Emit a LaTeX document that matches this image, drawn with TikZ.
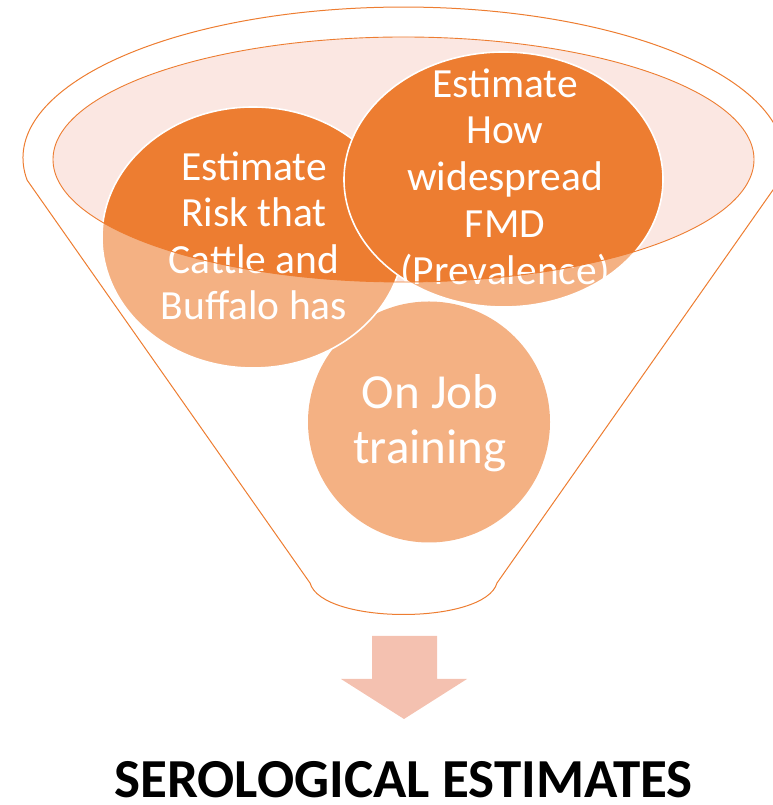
\documentclass[tikz,border=0pt]{standalone}
\usepackage{fontspec}
\setmainfont{Carlito}
\definecolor{darkorange}{HTML}{ED7D31}
\definecolor{lightorange}{HTML}{F4B183}
\definecolor{pinkfill}{RGB}{251,231,226}
\definecolor{arrowfill}{RGB}{244,193,176}
\tikzset{
  funnelline/.style={draw=darkorange, line width=1pt},
  circborder/.style={draw=white, line width=1.6pt},
  ctext/.style={anchor=base, text=white, inner sep=0pt, font=\fontsize{41.5}{47}\selectfont},
  btext/.style={anchor=base, text=white, inner sep=0pt, font=\fontsize{49}{55}\selectfont},
  ttext/.style={anchor=base, text=black, inner sep=0pt, font=\fontsize{55}{60}\selectfont\bfseries}
}
\begin{document}
\begin{tikzpicture}[x=1pt,y=1pt]
\useasboundingbox (0,0) rectangle (772,805);
% funnel outline
\draw[funnelline] (27.1,624.9) arc[start angle=188.4, end angle=-8.4, x radius=380.5, y radius=151]
  -- (497,222) .. controls (485,180) and (322,180) .. (310,222) -- cycle;
% inner ellipse fill
\fill[pinkfill] (403.5,645.5) ellipse [x radius=350.5, y radius=122.5];
% bottom circle
\fill[lightorange] (429,383) ellipse [x radius=121, y radius=120.5];
% left circle
\fill[lightorange] (253,567.5) ellipse [x radius=151, y radius=130.5];
\begin{scope}
  \clip (403.5,645.5) ellipse [x radius=350.5, y radius=122.5];
  \fill[darkorange] (253,567.5) ellipse [x radius=151, y radius=130.5];
\end{scope}
\path[circborder] (253,567.5) ellipse [x radius=151, y radius=130.5];
% right circle
\fill[lightorange] (503.5,625.5) ellipse [x radius=159.5, y radius=127.5];
\begin{scope}
  \clip (403.5,645.5) ellipse [x radius=350.5, y radius=122.5];
  \fill[darkorange] (503.5,625.5) ellipse [x radius=159.5, y radius=127.5];
\end{scope}
\path[circborder] (503.5,625.5) ellipse [x radius=159.5, y radius=127.5];
% texts
\node[ctext] (l1) at (254,624.5) {Estimate};
\node[ctext] (l2) at (254,578) {Risk that};
\node[ctext] (l3) at (254,531.5) {Cattle and};
\node[ctext] (l4) at (254,485) {Buffalo has};
\node[ctext] (r1) at (505,707.7) {Estimate};
\node[ctext] (r2) at (505,661) {How};
\node[ctext] (r3) at (505,614) {widespread};
\node[ctext] (r4) at (505,567) {FMD};
\node[ctext] (r5) at (505,520) {(Prevalence)};
\node[btext] (b1) at (430,396.7) {On Job};
\node[btext] (b2) at (430,341.7) {training};
% inner ellipse outline
\draw[darkorange, line width=0.9pt] (403.5,645.5) ellipse [x radius=350.5, y radius=122.5];
% arrow
\fill[arrowfill] (372,169) -- (437,169) -- (437,126) -- (467,126) -- (404,86) -- (341,126) -- (372,126) -- cycle;
% title
\node[ttext] (title) at (403.5,8) {SEROLOGICAL ESTIMATES};
\end{tikzpicture}
\end{document}
